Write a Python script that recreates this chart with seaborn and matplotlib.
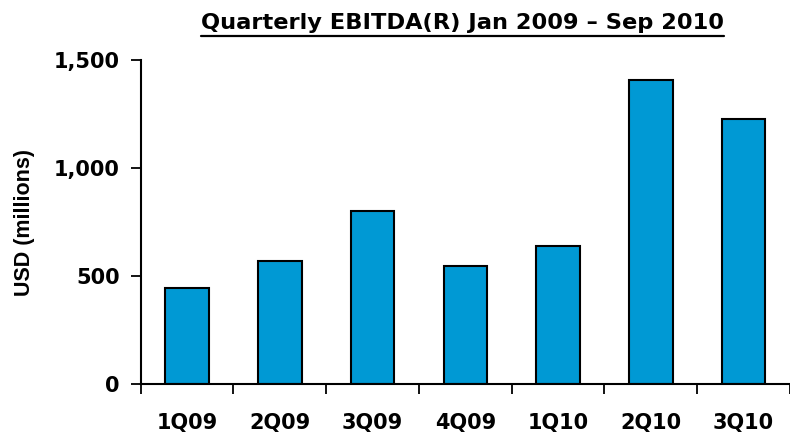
import matplotlib
matplotlib.use("Agg")
import matplotlib.pyplot as plt
import matplotlib.ticker as mticker
from matplotlib.lines import Line2D
import seaborn as sns
import pandas as pd

quarters = ["1Q09", "2Q09", "3Q09", "4Q09", "1Q10", "2Q10", "3Q10"]
ebitda = [444, 572, 804, 548, 639, 1406, 1230]
y_ticks = [0, 500, 1000, 1500]
title_text = "Quarterly EBITDA(R) Jan 2009 \u2013 Sep 2010"
y_label = "USD (millions)"

sns.set_theme(style="white")
plt.rcParams["font.family"] = ["DejaVu Sans"]
plt.rcParams["text.color"] = "black"
plt.rcParams["axes.labelcolor"] = "black"
plt.rcParams["xtick.color"] = "black"
plt.rcParams["ytick.color"] = "black"
wide_font = ["DejaVu Sans"]
narrow_font = ["Liberation Sans", "DejaVu Sans"]

df = pd.DataFrame({"quarter": quarters, "ebitda": ebitda})

fig = plt.figure(figsize=(7.9, 4.33), dpi=100)
ax = fig.add_axes([0.178, 0.1125, 0.822, 0.7485])

sns.barplot(data=df, x="quarter", y="ebitda", color="#0099D4", saturation=1,
            edgecolor="black", linewidth=1.5, width=0.47, ax=ax)

ax.set_xlim(-0.5, len(quarters) - 0.5)
ax.set_ylim(0, 1500)
ax.set_yticks(y_ticks)
ax.yaxis.set_major_formatter(mticker.StrMethodFormatter("{x:,.0f}"))

# x ticks sit on the category boundaries, labels stay centred under bars
ax.set_xticks([i + 0.5 for i in range(-1, len(quarters))], minor=False)
ax.set_xticklabels([""] * (len(quarters) + 1))
ax.set_xticks(range(len(quarters)), minor=True)
ax.set_xticklabels(quarters, minor=True)
ax.tick_params(axis="x", which="major", length=7, width=1.3, color="black", direction="out", bottom=True)
ax.tick_params(axis="x", which="minor", length=0, pad=21, labelsize=15, labelcolor="black")
ax.tick_params(axis="y", length=7, width=1.3, color="black", direction="out", left=True,
               labelsize=15, pad=8, labelcolor="black")
for lbl in ax.get_xticklabels(minor=True) + ax.get_yticklabels():
    lbl.set_fontweight("bold")
    lbl.set_family(wide_font)

for side in ["top", "right"]:
    ax.spines[side].set_visible(False)
for side in ["left", "bottom"]:
    ax.spines[side].set_color("black")
    ax.spines[side].set_linewidth(1.5)

ax.set_xlabel("")
ax.set_ylabel(y_label, fontsize=15.5, fontweight="bold", family=narrow_font, color="black")
ax.yaxis.set_label_coords(-0.163, 0.5)

# underlined title
t = fig.text(0.585, 0.934, title_text, ha="center", va="baseline", color="black",
             fontsize=16.2, fontweight="bold", family=wide_font)
fig.canvas.draw()
bb = t.get_window_extent().transformed(fig.transFigure.inverted())
uy = 0.9175
fig.add_artist(Line2D([bb.x0, bb.x1], [uy, uy], color="black", linewidth=1.6,
                      transform=fig.transFigure))

fig.savefig("out.png", dpi=100)
